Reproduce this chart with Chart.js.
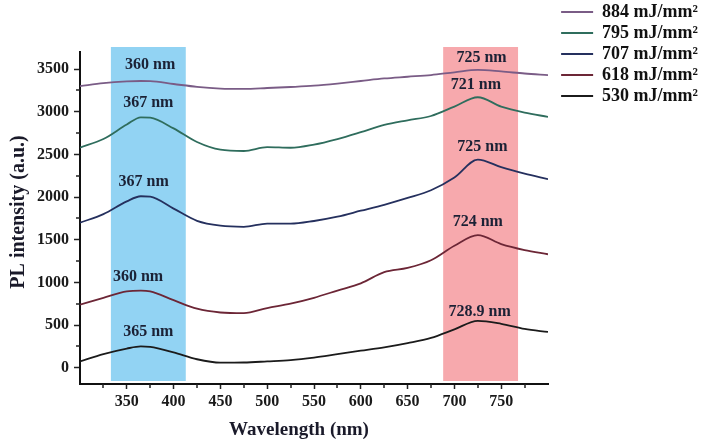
<!DOCTYPE html>
<html>
<head>
<meta charset="utf-8">
<script src="https://cdn.jsdelivr.net/npm/chart.js@4.4.1/dist/chart.umd.min.js"></script>
<style>
  html, body { margin: 0; padding: 0; background: #fff; }
  #wrap { width: 708px; height: 445px; position: relative; }
</style>
</head>
<body>
<div id="wrap"><canvas id="plChart"></canvas></div>
<script>
// wavelength grid (nm) shared by every spectrum
const wavelengths = [300, 325, 350, 365, 375, 400, 425, 450, 475, 500, 525, 550, 575, 600, 625, 650, 675, 700, 725, 750, 775, 800];

// PL intensity (a.u.), one list per fluence
const pl884 = [3300, 3335, 3355, 3360, 3358, 3325, 3292, 3272, 3268, 3278, 3290, 3305, 3330, 3360, 3390, 3410, 3430, 3462, 3490, 3472, 3448, 3430];
const pl795 = [2580, 2680, 2850, 2935, 2930, 2805, 2645, 2555, 2540, 2585, 2578, 2615, 2680, 2760, 2845, 2900, 2950, 3060, 3170, 3060, 2990, 2940];
const pl707 = [1700, 1800, 1950, 2010, 2005, 1865, 1722, 1665, 1652, 1690, 1688, 1720, 1770, 1840, 1910, 1990, 2080, 2230, 2440, 2350, 2275, 2210];
const pl618 = [740, 820, 895, 905, 895, 792, 692, 648, 640, 700, 752, 820, 905, 990, 1120, 1170, 1260, 1430, 1555, 1450, 1380, 1330];
const pl530 = [75, 160, 225, 250, 245, 180, 100, 60, 62, 75, 90, 120, 160, 200, 240, 290, 350, 450, 550, 515, 455, 420];

const seriesNames = ['884 mJ/mm²', '795 mJ/mm²', '707 mJ/mm²', '618 mJ/mm²', '530 mJ/mm²'];
const seriesValues = [pl884, pl795, pl707, pl618, pl530];
const seriesColors = ['#7a5c86', '#2f6d5d', '#25305e', '#6c2636', '#1b1b1b'];

// axis ticks
const xTicks = [350, 400, 450, 500, 550, 600, 650, 700, 750];
const xMinorTicks = [325, 375, 425, 475, 525, 575, 625, 675, 725, 775];
const yTicks = [0, 500, 1000, 1500, 2000, 2500, 3000, 3500];
const yMinorTicks = [250, 750, 1250, 1750, 2250, 2750, 3250];

// highlighted wavelength bands (nm)
const uvBand = [333, 413];
const visBand = [688, 768];

// peak notes, in data units
const peakNotes = [
  { text: '360 nm', x: 375, y: 3553 },
  { text: '367 nm', x: 373, y: 3103 },
  { text: '367 nm', x: 368, y: 2183 },
  { text: '360 nm', x: 362, y: 1068 },
  { text: '365 nm', x: 373, y: 423 },
  { text: '725 nm', x: 729, y: 3632 },
  { text: '721 nm', x: 723, y: 3318 },
  { text: '725 nm', x: 730, y: 2587 },
  { text: '724 nm', x: 725, y: 1714 },
  { text: '728.9 nm', x: 727, y: 657 }
];

const xTitle = 'Wavelength (nm)';
const yTitle = 'PL intensity (a.u.)';

const serif = "'Liberation Serif', 'Times New Roman', serif";

const bandPlugin = {
  id: 'bands',
  beforeDatasetsDraw(chart) {
    const { ctx, chartArea, scales } = chart;
    ctx.save();
    [[uvBand, '#92d3f3'], [visBand, '#f7a9ad']].forEach(([band, color]) => {
      const x0 = scales.x.getPixelForValue(band[0]);
      const x1 = scales.x.getPixelForValue(band[1]);
      ctx.fillStyle = color;
      ctx.fillRect(x0, chartArea.top - 5, x1 - x0, chartArea.bottom - chartArea.top + 2);
    });
    ctx.restore();
  }
};

const extrasPlugin = {
  id: 'extras',
  afterDatasetsDraw(chart) {
    const { ctx, scales } = chart;
    ctx.save();
    ctx.fillStyle = '#1b2135';
    ctx.font = 'bold 16px ' + serif;
    ctx.textAlign = 'center';
    ctx.textBaseline = 'middle';
    peakNotes.forEach(n => {
      ctx.fillText(n.text, scales.x.getPixelForValue(n.x), scales.y.getPixelForValue(n.y));
    });
    ctx.restore();
  },
  afterDraw(chart) {
    const { ctx, chartArea } = chart;
    const sx = chart.scales.x, sy = chart.scales.y;
    ctx.save();
    // minor ticks
    ctx.strokeStyle = '#222';
    ctx.lineWidth = 1.5;
    ctx.beginPath();
    xMinorTicks.forEach(v => {
      const px = Math.round(sx.getPixelForValue(v));
      ctx.moveTo(px, chartArea.bottom);
      ctx.lineTo(px, chartArea.bottom + 4);
    });
    yMinorTicks.forEach(v => {
      const py = Math.round(sy.getPixelForValue(v));
      ctx.moveTo(chartArea.left - 4, py);
      ctx.lineTo(chartArea.left, py);
    });
    ctx.stroke();

    // axis titles
    ctx.fillStyle = '#1a1a2a';
    ctx.textAlign = 'center';
    ctx.textBaseline = 'middle';
    ctx.font = 'bold 19px ' + serif;
    ctx.fillText(xTitle, (chartArea.left + chartArea.right) / 2 - 15, chart.height - 15);
    ctx.translate(19, (chartArea.top + chartArea.bottom) / 2 - 6);
    ctx.rotate(-Math.PI / 2);
    ctx.font = 'bold 20px ' + serif;
    ctx.fillText(yTitle, 0, 0);
    ctx.restore();
  }
};

const datasets = seriesNames.map((name, i) => ({
  label: name,
  data: wavelengths.map((w, j) => ({ x: w, y: seriesValues[i][j] })),
  borderColor: seriesColors[i],
  backgroundColor: seriesColors[i],
  borderWidth: 1.8,
  pointRadius: 0,
  fill: false,
  cubicInterpolationMode: 'monotone'
}));

new Chart(document.getElementById('plChart'), {
  type: 'line',
  data: { datasets },
  options: {
    responsive: true,
    maintainAspectRatio: false,
    animation: false,
    layout: { padding: 0 },
    plugins: {
      tooltip: { enabled: false },
      legend: {
        position: 'right',
        align: 'start',
        maxWidth: 220,
        labels: {
          usePointStyle: true,
          pointStyle: 'line',
          pointStyleWidth: 32,
          padding: 3,
          color: '#111',
          font: { family: serif, size: 18, weight: 'bold' }
        }
      }
    },
    scales: {
      x: {
        type: 'linear',
        min: 300,
        max: 800,
        afterBuildTicks: s => { s.ticks = xTicks.map(v => ({ value: v })); },
        afterFit: s => { s.height = 61; },
        grid: { drawOnChartArea: false, drawTicks: true, tickLength: 5, tickColor: '#222', tickWidth: 1.5 },
        border: { display: true, color: '#111', width: 2 },
        ticks: {
          autoSkip: false, maxRotation: 0, padding: 3, color: '#1a1a1a',
          font: { family: serif, size: 16, weight: 'bold' },
          callback: v => String(v)
        }
      },
      y: {
        min: -190,
        max: 3700,
        afterBuildTicks: s => { s.ticks = yTicks.map(v => ({ value: v })); },
        afterFit: s => { s.width = 80; },
        grid: { drawOnChartArea: false, drawTicks: true, tickLength: 6, tickColor: '#222', tickWidth: 1.5 },
        border: { display: true, color: '#111', width: 2 },
        ticks: {
          padding: 5, color: '#1a1a1a',
          font: { family: serif, size: 16, weight: 'bold' },
          callback: v => String(v)
        }
      },
      xTop: {
        type: 'linear', position: 'top', display: true,
        grid: { display: false }, ticks: { display: false }, border: { display: false },
        afterFit: s => { s.height = 52; }
      },
      yRight: {
        type: 'linear', position: 'right', display: true,
        grid: { display: false }, ticks: { display: false }, border: { display: false },
        afterFit: s => { s.width = Math.max(0, 160 - s.chart.legend.width); }
      }
    }
  },
  plugins: [bandPlugin, extrasPlugin]
});
</script>
</body>
</html>
